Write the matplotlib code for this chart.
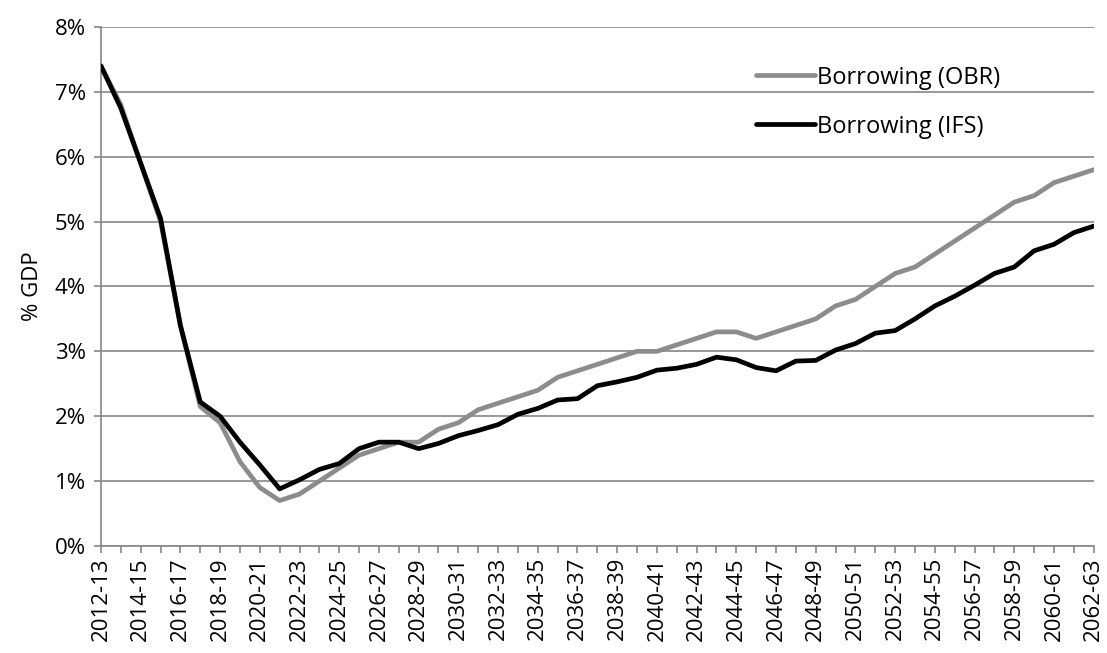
import numpy as np
import matplotlib
matplotlib.use('Agg')
import matplotlib.pyplot as plt
from matplotlib.ticker import FuncFormatter

# ============================ data ============================
start_years = list(range(2012, 2063))
years = ['%d-%02d' % (y, (y + 1) % 100) for y in start_years]

obr = [7.4, 6.8, 5.9, 5.0, 3.4, 2.15, 1.9, 1.3, 0.9, 0.7,
       0.8, 1.0, 1.2, 1.4, 1.5, 1.6, 1.6, 1.8, 1.9, 2.1,
       2.2, 2.3, 2.4, 2.6, 2.7, 2.8, 2.9, 3.0, 3.0, 3.1,
       3.2, 3.3, 3.3, 3.2, 3.3, 3.4, 3.5, 3.7, 3.8, 4.0,
       4.2, 4.3, 4.5, 4.7, 4.9, 5.1, 5.3, 5.4, 5.6, 5.7,
       5.8]

ifs = [7.4, 6.75, 5.9, 5.05, 3.4, 2.22, 2.0, 1.6, 1.25, 0.88,
       1.02, 1.18, 1.27, 1.5, 1.6, 1.6, 1.5, 1.58, 1.7, 1.78,
       1.87, 2.03, 2.12, 2.25, 2.27, 2.47, 2.53, 2.6, 2.71, 2.74,
       2.8, 2.91, 2.87, 2.75, 2.7, 2.85, 2.86, 3.02, 3.12, 3.28,
       3.32, 3.5, 3.7, 3.85, 4.02, 4.2, 4.3, 4.55, 4.65, 4.83,
       4.93]

GRID = '#868686'
FS = 16
plt.rcParams['font.family'] = ['Open Sans', 'DejaVu Sans']

fig = plt.figure(figsize=(11.07, 6.53), dpi=100)
ax = fig.add_axes([0.0912, 0.1639, 0.8968, 0.7948])

x = np.arange(len(years))
ax.plot(x, obr, color='#8c8c8c', lw=3.4, label='Borrowing (OBR)', solid_capstyle='round', zorder=3)
ax.plot(x, ifs, color='black', lw=3.4, label='Borrowing (IFS)', solid_capstyle='round', zorder=4)

ax.set_xlim(0, len(years) - 1)
ax.set_ylim(0, 8)
ax.set_yticks(np.arange(0, 9, 1))
ax.yaxis.set_major_formatter(FuncFormatter(lambda v, p: '%d%%' % v))
ax.set_xticks(x)
ax.set_xticklabels([lab if i % 2 == 0 else '' for i, lab in enumerate(years)], rotation=90)

ax.grid(axis='y', color=GRID, lw=1.2)
ax.set_axisbelow(True)
for s in ['top', 'right']:
    ax.spines[s].set_visible(False)
for s in ['left', 'bottom']:
    ax.spines[s].set_color(GRID)
    ax.spines[s].set_linewidth(1.2)
ax.tick_params(axis='both', colors=GRID, length=5, width=1.2, labelsize=FS, labelcolor='black')
ax.tick_params(axis='x', pad=3)
ax.tick_params(axis='y', pad=6)
ax.set_ylabel('% GDP', fontsize=FS, labelpad=8)

ax.legend(loc='upper right', bbox_to_anchor=(0.918, 0.948), frameon=False, fontsize=17,
          handlelength=2.5, handletextpad=0.1, labelspacing=1.05, borderpad=0)

fig.savefig('out.png', dpi=100)
